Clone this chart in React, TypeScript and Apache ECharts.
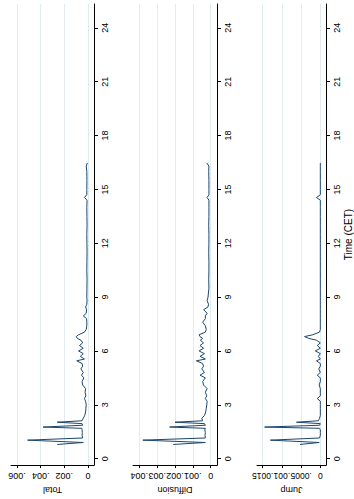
import React, { useEffect, useRef } from "react";
import * as echarts from "echarts";

// Time of day (hours, CET) shared by the three series
const hours = [
  0.79, 0.9, 1.03, 1.15, 1.3, 1.45, 1.6, 1.69, 1.76, 1.86,
  1.95, 2.03, 2.11, 2.25, 2.4, 2.6, 2.8, 3.0, 3.2, 3.35,
  3.5, 3.7, 3.9, 4.1, 4.3, 4.5, 4.65, 4.8, 5.0, 5.15,
  5.3, 5.45, 5.55, 5.7, 5.85, 6.0, 6.15, 6.3, 6.45, 6.6,
  6.7, 6.8, 6.9, 7.05, 7.2, 7.4, 7.6, 7.8, 7.95, 8.1,
  8.3, 8.45, 8.6, 8.8, 9.0, 9.5, 10.0, 10.5, 11.0, 11.5,
  12.0, 12.5, 13.0, 13.5, 14.0, 14.4, 14.55, 14.7, 15.0, 15.5,
  16.0, 16.3, 16.47,
];

const totalValues = [
  0.0026, 0.0004, 0.0051, 0.00045, 0.0005, 0.00048, 0.0005, 0.00052, 0.0038, 0.00045,
  0.0005, 0.0026, 0.0005, 0.0004, 0.00028, 0.0002, 0.00018, 0.00015, 0.0002, 0.0003,
  0.00018, 0.00025, 0.0002, 0.00045, 0.0005, 0.00035, 0.00055, 0.0004, 0.0006, 0.00045,
  0.0005, 0.00095, 0.0003, 0.00065, 0.0004, 0.0008, 0.0004, 0.00072, 0.00045, 0.0006,
  0.0009, 0.001, 0.0008, 0.0003, 0.00015, 0.0001, 0.0001, 0.00012, 0.0004, 0.00015,
  0.00012, 0.0002, 0.0001, 0.00008, 0.0001, 0.00009, 0.00008, 0.0001, 0.00009, 0.00008,
  0.00009, 0.0001, 0.00008, 0.00009, 0.0001, 0.00008, 0.0003, 0.0001, 0.0001, 0.00009,
  0.0001, 0.00015, 0.00005,
];

const diffusionValues = [
  0.0021, 0.0003, 0.0038, 0.0003, 0.00032, 0.0003, 0.00033, 0.0003, 0.0023, 0.0003,
  0.00035, 0.002, 0.00045, 0.0005, 0.00035, 0.00028, 0.00025, 0.00022, 0.0002, 0.0003,
  0.00022, 0.0003, 0.0002, 0.0004, 0.00045, 0.0003, 0.0006, 0.00035, 0.0005, 0.0004,
  0.00045, 0.0008, 0.0003, 0.0006, 0.00035, 0.00065, 0.0004, 0.0006, 0.0004, 0.00058,
  0.00045, 0.0006, 0.00065, 0.0003, 0.00025, 0.0003, 0.00045, 0.0003, 0.0003, 0.0002,
  0.0004, 0.00015, 0.00012, 0.0002, 0.00015, 0.0001, 0.00011, 0.0001, 0.0001, 0.00011,
  0.0001, 0.0001, 0.00011, 0.0001, 0.0001, 0.0001, 0.0002, 0.0001, 0.0001, 0.0001,
  0.00011, 0.0001, 0.00022,
];

const jumpValues = [
  0.00053, 0.00003, 0.0013, 0.00002, 0, 0, 0, 0.00002, 0.00145, 0.00002,
  0, 0.00062, 0.00005, 0.00002, 0, 0, 0, 0, 0, 0.00008,
  0, 0, 0, 0.00003, 0, 0, 0.00008, 0, 0.00004, 0,
  0, 0.0001, 0, 0.00005, 0, 0.00013, 0, 0.00008, 0, 0.0001,
  0.0003, 0.00041, 0.0002, 0.00002, 0, 0, 0, 0, 0, 0,
  0, 0, 0, 0, 0, 0, 0, 0, 0, 0,
  0, 0, 0, 0, 0, 0, 0.0001, 0, 0, 0,
  0, 0, 0,
];

const timeTicks = [0, 3, 6, 9, 12, 15, 18, 21, 24];
const totalTicks = [0, 0.002, 0.004, 0.006];
const diffusionTicks = [0, 0.001, 0.002, 0.003, 0.004];
const jumpTicks = [0, 0.0005, 0.001, 0.0015];
const panelTitles = ["Total", "Diffusion", "Jump"];
const timeTitle = "Time (CET)";

const FONT = "'Liberation Sans', Arial, Helvetica, sans-serif";
const LINE = "#1a476f";
const GRID = "#e2ebed";

function fmt(v: number): string {
  if (v === 0) return "0";
  return String(+v.toPrecision(6)).replace(/^0/, "");
}

export default function App() {
  const ref = useRef<HTMLDivElement>(null);

  useEffect(() => {
    if (!ref.current) return;
    const chart = echarts.init(ref.current, undefined, { renderer: "svg" });

    const panels = [
      { values: totalValues, ticks: totalTicks, min: -0.000507, max: 0.006507, left: 11, width: 83, labelSize: 9 },
      { values: diffusionValues, ticks: diffusionTicks, min: -0.000353, max: 0.004353, left: 133, width: 84, labelSize: 9 },
      { values: jumpValues, ticks: jumpTicks, min: -0.000148, max: 0.001648, left: 257, width: 73, labelSize: 8.5 },
    ];

    const grids = panels.map((p) => ({ left: p.left, width: p.width, top: 4, height: 463 }));

    const xAxes = panels.map((p, i) => ({
      type: "value",
      gridIndex: i,
      inverse: true,
      min: p.min,
      max: p.max,
      position: "bottom",
      name: panelTitles[i],
      nameLocation: "middle",
      nameRotate: 180,
      nameGap: 16,
      nameTextStyle: { fontFamily: FONT, fontSize: 9, color: "#000" },
      axisLine: { show: true, onZero: false, lineStyle: { color: "#000", width: 1 } },
      axisTick: { show: true, length: 3, customValues: p.ticks, lineStyle: { color: "#000", width: 1 } },
      axisLabel: {
        customValues: p.ticks,
        rotate: 180,
        margin: 6,
        showMinLabel: true,
        showMaxLabel: true,
        hideOverlap: false,
        fontFamily: FONT,
        fontSize: p.labelSize,
        color: "#000",
        formatter: (v: number) => fmt(v),
      },
      splitLine: { show: true, lineStyle: { color: GRID, width: 1 } },
    }));

    const yAxes = panels.map((p, i) => ({
      type: "value",
      gridIndex: i,
      min: -0.36,
      max: 25.33,
      position: "right",
      name: i === 2 ? timeTitle : "",
      nameLocation: "middle",
      nameGap: 17,
      nameTextStyle: { fontFamily: FONT, fontSize: 10, color: "#000" },
      axisLine: { show: true, onZero: false, lineStyle: { color: "#000", width: 1 } },
      axisTick: { show: true, length: 4, customValues: timeTicks, lineStyle: { color: "#000", width: 1 } },
      axisLabel: {
        customValues: timeTicks,
        rotate: 90,
        margin: 6,
        showMinLabel: true,
        showMaxLabel: true,
        fontFamily: FONT,
        fontSize: 9,
        color: "#000",
      },
      splitLine: { show: false },
    }));

    const series = panels.map((p, i) => ({
      type: "line",
      xAxisIndex: i,
      yAxisIndex: i,
      data: hours.map((h, k) => [p.values[k], h]),
      showSymbol: false,
      symbol: "none",
      lineStyle: { color: LINE, width: 1 },
      itemStyle: { color: LINE },
    }));

    chart.setOption({
      animation: false,
      backgroundColor: "#fff",
      grid: grids,
      xAxis: xAxes,
      yAxis: yAxes,
      series,
    } as any);

    return () => chart.dispose();
  }, []);

  return (
    <div
      ref={ref}
      style={{ position: "absolute", left: 0, top: 0, width: 354, height: 499, background: "#fff" }}
    />
  );
}
